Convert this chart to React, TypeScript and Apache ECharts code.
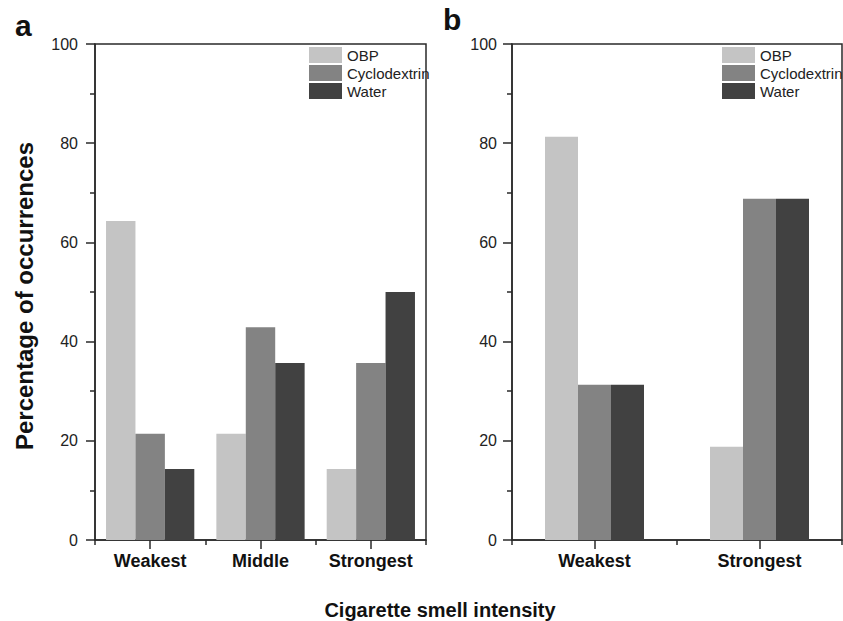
import React, { useEffect, useRef } from "react";
import * as echarts from "echarts";

const categoriesA = ["Weakest", "Middle", "Strongest"];
const categoriesB = ["Weakest", "Strongest"];
const seriesNames = ["OBP", "Cyclodextrin", "Water"];
const obpA = [64.3, 21.4, 14.3];
const cycloA = [21.4, 42.9, 35.7];
const waterA = [14.3, 35.7, 50.0];
const obpB = [81.3, 18.8];
const cycloB = [31.3, 68.8];
const waterB = [31.3, 68.8];
const yMin = 0;
const yMax = 100;
const yStep = 20;
const yTitle = "Percentage of occurrences";
const xTitle = "Cigarette smell intensity";
const panelLabels = ["a", "b"];

const colors = ["#c4c4c4", "#838383", "#414141"];
const FONT = "Liberation Sans, Arial, sans-serif";
const AX = "#2a2a2a";

export default function App() {
  const ref = useRef<HTMLDivElement>(null);
  useEffect(() => {
    if (!ref.current) return;
    const chart = echarts.init(ref.current, undefined, { renderer: "svg" });

    const grids = [
      { left: 95, top: 44, width: 331, height: 496 },
      { left: 512, top: 44, width: 330, height: 496 },
    ];
    const cats = [categoriesA, categoriesB];
    const data = [
      [obpA, cycloA, waterA],
      [obpB, cycloB, waterB],
    ];
    const catGap = ["20%", "40%"];
    const labelMargins = [17, 15];

    const xAxis: any[] = [];
    const yAxis: any[] = [];
    const series: any[] = [];
    grids.forEach((g, i) => {
      xAxis.push({
        type: "category",
        gridIndex: i,
        data: cats[i],
        position: "bottom",
        axisLine: { show: true, lineStyle: { color: AX, width: 1.5 } },
        axisTick: { show: true, alignWithLabel: true, length: 9, lineStyle: { color: AX, width: 1.5 } },
        axisLabel: { show: true, interval: 0, margin: 12, color: "#111", fontSize: 18, fontWeight: "bold", fontFamily: FONT },
        splitLine: { show: false },
      });
      yAxis.push({
        type: "value",
        gridIndex: i,
        min: yMin,
        max: yMax,
        interval: yStep,
        axisLine: { show: true, lineStyle: { color: AX, width: 1.5 } },
        axisTick: { show: true, length: 9, lineStyle: { color: AX, width: 1.5 } },
        minorTick: { show: true, splitNumber: 2, length: 5, lineStyle: { color: AX, width: 1.5 } },
        axisLabel: { margin: labelMargins[i], color: "#222", fontSize: 16, fontFamily: FONT },
        splitLine: { show: false },
        minorSplitLine: { show: false },
      });
      seriesNames.forEach((name, k) => {
        series.push({
          type: "bar",
          name,
          xAxisIndex: i,
          yAxisIndex: i,
          data: data[i][k],
          barGap: "0%",
          barCategoryGap: catGap[i],
          itemStyle: { color: colors[k] },
          emphasis: { disabled: true },
        });
      });
    });
    // secondary axes for boundary ticks
    grids.forEach((g, i) => {
      xAxis.push({
        type: "category",
        gridIndex: i,
        data: cats[i],
        position: "bottom",
        axisLine: { show: false },
        axisTick: { show: true, alignWithLabel: false, interval: 0, length: 5, lineStyle: { color: AX, width: 1.5 } },
        axisLabel: { show: false },
        splitLine: { show: false },
      });
    });

    const legendLefts = [309, 722];
    chart.setOption({
      animation: false,
      color: colors,
      grid: grids.map((g) => ({
        ...g,
        show: true,
        borderColor: AX,
        borderWidth: 1.5,
        backgroundColor: "transparent",
        containLabel: false,
      })),
      xAxis,
      yAxis,
      series,
      legend: legendLefts.map((l) => ({
        left: l,
        top: 47,
        orient: "vertical",
        icon: "rect",
        itemWidth: 33,
        itemHeight: 16,
        itemGap: 2,
        padding: 0,
        selectedMode: false,
        data: seriesNames,
        textStyle: { fontSize: 15, color: "#222", fontFamily: FONT, padding: [0, 0, 0, 0] },
      })),
      graphic: [
        {
          type: "text",
          left: 15,
          top: 10,
          style: { text: panelLabels[0], fontSize: 30, fontWeight: "bold", fill: "#111", fontFamily: FONT },
        },
        {
          type: "text",
          left: 443,
          top: 4,
          style: { text: panelLabels[1], fontSize: 30, fontWeight: "bold", fill: "#111", fontFamily: FONT },
        },
        {
          type: "text",
          x: 24,
          y: 296,
          rotation: Math.PI / 2,
          style: {
            text: yTitle,
            fontSize: 24,
            fontWeight: "bold",
            fill: "#111",
            fontFamily: FONT,
            textAlign: "center",
            textVerticalAlign: "middle",
          },
        },
        {
          type: "text",
          x: 440,
          y: 610,
          style: {
            text: xTitle,
            fontSize: 20,
            fontWeight: "bold",
            fill: "#111",
            fontFamily: FONT,
            textAlign: "center",
            textVerticalAlign: "middle",
          },
        },
      ],
    });
    return () => chart.dispose();
  }, []);
  return (
    <div
      ref={ref}
      style={{ position: "fixed", left: 0, top: 0, width: 843, height: 621, background: "#fff" }}
    />
  );
}
